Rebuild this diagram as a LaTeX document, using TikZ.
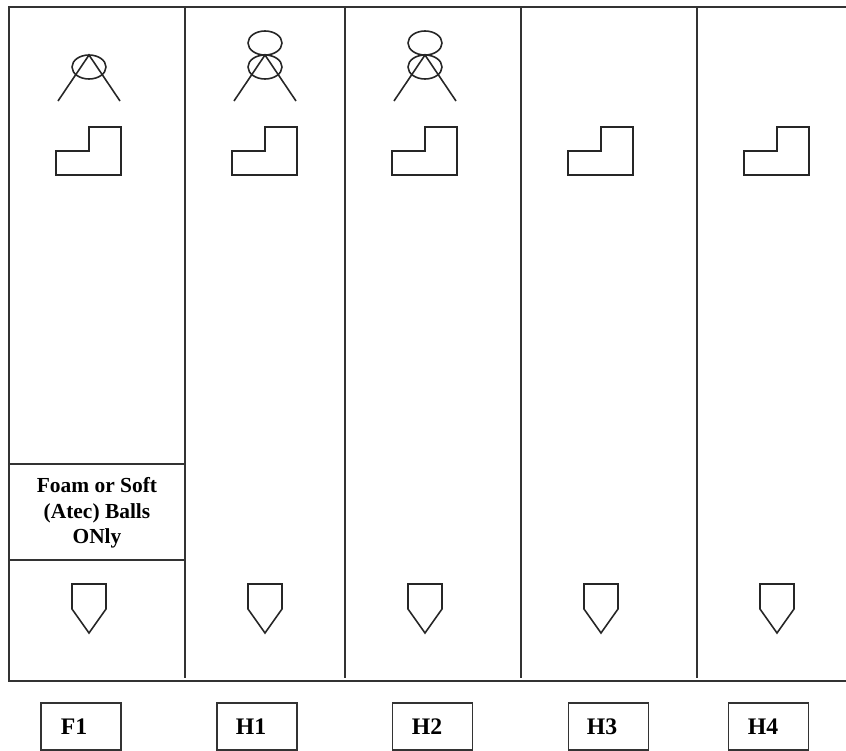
\documentclass[tikz,border=0pt]{standalone}
\usepackage{fontspec}
\setmainfont{Liberation Serif}
\begin{document}
\begin{tikzpicture}[x=0.02cm, y=-0.02cm,
    wall/.style={draw=black!80, line width=1.1pt},
    icon/.style={draw=black!85, line width=0.9pt},
    fieldtag/.style={draw=black!80, line width=0.9pt, minimum width=1.6cm, minimum height=0.94cm, inner sep=0pt},
    taglabel/.style={font=\bfseries\fontsize{13.5}{14}\selectfont, inner sep=0pt},
    signtext/.style={font=\bfseries\fontsize{12.2}{14.4}\selectfont, align=center, inner sep=0pt}]
  \useasboundingbox (0,0) rectangle (846,751);

  % outer frame, open on the right
  \draw[wall] (846,7) -- (9,7) -- (9,681) -- (846,681);
  \foreach \x in {185,345,521,697} {
    \draw[wall] (\x,7) -- (\x,678);
  }

  % sign panel in the first field
  \draw[wall] (9,464) -- (185,464);
  \draw[wall] (9,560) -- (185,560);
  \node[signtext] (signF1) at (97,513) {Foam or Soft\\(Atec) Balls\\ONly};

  % lower ring and legs
  \foreach \x in {89,265,425} {
    \draw[icon] (\x,67) ellipse (0.34cm and 0.24cm);
    \draw[icon] (\x-31,101) -- (\x,55) -- (\x+31,101);
  }
  % upper ring on two fields
  \foreach \x in {265,425} {
    \draw[icon] (\x,43) ellipse (0.34cm and 0.24cm);
  }

  % stepped outlines
  \foreach \x in {89,265,425,601,777} {
    \draw[icon] (\x-33,151) -- (\x,151) -- (\x,127) -- (\x+32,127) -- (\x+32,175) -- (\x-33,175) -- cycle;
  }

  % home plates
  \foreach \x in {89,265,425,601,777} {
    \draw[icon] (\x-17,584) -- (\x+17,584) -- (\x+17,609) -- (\x,633) -- (\x-17,609) -- cycle;
  }

  % field names below
  \foreach \name/\bx/\tx in {F1/81/74,H1/257/251,H2/432.5/427,H3/608.5/602,H4/768.5/763} {
    \node[fieldtag] (tag\name) at (\bx,726.5) {};
    \node[taglabel] (lab\name) at (\tx,727) {\name};
  }
\end{tikzpicture}
\end{document}
